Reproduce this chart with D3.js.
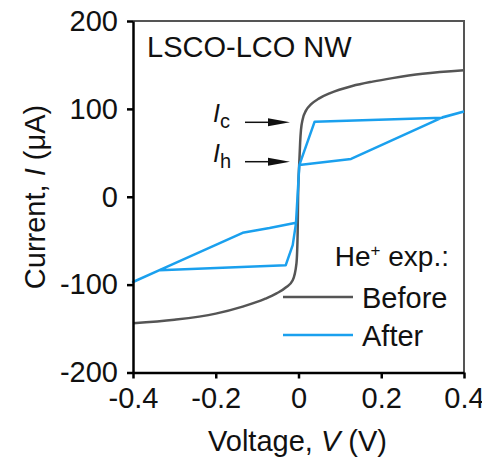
<!DOCTYPE html>
<html>
<head>
<meta charset="utf-8">
<script src="https://cdn.jsdelivr.net/npm/d3@7"></script>
<style>
  body { margin: 0; background: white; overflow: hidden; }
  text { font-family: "Liberation Sans", Arial, sans-serif; fill: #111; }
</style>
</head>
<body>
<div id="graph"></div>
<script>
var xTicks = [-0.4, -0.2, 0, 0.2, 0.4]
var xTickLabels = ["-0.4", "-0.2", "0", "0.2", "0.4"]
var yTicks = [200, 100, 0, -100, -200]
var yTickLabels = ["200", "100", "0", "-100", "-200"]

// before He+ exposure
var beforeV = [-0.4, -0.3, -0.2, -0.135, -0.08, -0.053, -0.03, -0.014, -0.005, -0.002, -0.001, 0.002, 0.004, 0.006, 0.01, 0.018, 0.03, 0.05, 0.075, 0.13, 0.179, 0.227, 0.3, 0.4]
var beforeI = [-144, -140, -133, -125, -116, -110, -103, -95, -76, -40, 0, 40, 62, 76, 88, 98, 105, 112, 117.6, 126, 131, 135, 140, 144]

// after He+ exposure (sweep order)
var afterV = [0.4, 0.348, 0.039, 0.002, -0.006, -0.014, -0.031, -0.336, -0.4, -0.336, -0.135, -0.07, -0.006, 0.002, 0.127, 0.348, 0.4]
var afterI = [97, 90, 85.4, 36, -30, -55, -78, -83.5, -97, -83.5, -41, -35.6, -29.5, 36, 43, 90.4, 97]

var w = 482, h = 461
var mLeft = 133, mRight = 464, mTop = 21, mBottom = 372.5

var svg = d3.select('#graph')
  .append('svg')
  .attr("width", w)
  .attr("height", h)

var x = d3.scaleLinear().domain([-0.4, 0.4]).range([mLeft, mRight])
var y = d3.scaleLinear().domain([-200, 200]).range([mBottom, mTop])

var beforePts = d3.zip(beforeV, beforeI)
var afterPts = d3.zip(afterV, afterI)

// frame top / right
svg.append("path")
  .attr("d", `M${mLeft},${mTop}H${mRight}V${mBottom}`)
  .attr("fill", "none")
  .attr("stroke", "#555")
  .attr("stroke-width", 2)

svg.append("path")
  .datum(beforePts)
  .attr("d", d3.line().x(d => x(d[0])).y(d => y(d[1])).curve(d3.curveMonotoneX))
  .attr("fill", "none")
  .attr("stroke", "#555")
  .attr("stroke-width", 2.5)

svg.append("path")
  .datum(afterPts)
  .attr("d", d3.line().x(d => x(d[0])).y(d => y(d[1])))
  .attr("fill", "none")
  .attr("stroke", "#1aa0ee")
  .attr("stroke-width", 2.5)
  .attr("stroke-linejoin", "round")

svg.append("g")
  .attr("transform", `translate(0,${mBottom})`)
  .call(d3.axisBottom(x)
    .tickValues(xTicks)
    .tickFormat((d, i) => xTickLabels[i])
    .tickSize(6)
    .tickSizeOuter(0)
    .tickPadding(9))

svg.append("g")
  .attr("transform", `translate(${mLeft},0)`)
  .call(d3.axisLeft(y)
    .tickValues(yTicks)
    .tickFormat((d, i) => yTickLabels[i])
    .tickSize(6)
    .tickSizeOuter(0)
    .tickPadding(9))

svg.selectAll(".domain, .tick line")
  .attr("stroke", "#000")
  .attr("stroke-width", 2.5)

svg.selectAll(".tick text")
  .style("font-family", '"Liberation Sans", Arial, sans-serif')
  .style("font-size", "29px")
  .attr("fill", "#111")

svg.append("text")
  .attr("x", (mLeft + mRight) / 2 - 1)
  .attr("y", 451)
  .attr("text-anchor", "middle")
  .style("font-size", "29px")
  .html('Voltage, <tspan font-style="italic">V</tspan> (V)')

svg.append("text")
  .attr("transform", "translate(45,197) rotate(-90)")
  .attr("text-anchor", "middle")
  .style("font-size", "29px")
  .html('Current, <tspan font-style="italic">I</tspan> (μA)')

svg.append("text")
  .attr("x", 147)
  .attr("y", 57)
  .style("font-size", "29px")
  .text("LSCO-LCO NW")

// Ic / Ih markers
var marks = [{ sub: "c", iy: 122, ay: 122.3 }, { sub: "h", iy: 162, ay: 161.7 }]
marks.forEach(m => {
  var t = svg.append("text")
    .attr("x", 213)
    .attr("y", m.iy)
    .style("font-size", "25px")
  t.append("tspan").attr("font-style", "italic").text("I")
  t.append("tspan").attr("dy", 6).style("font-size", "20px").text(m.sub)

  svg.append("line")
    .attr("x1", 245).attr("x2", 272)
    .attr("y1", m.ay).attr("y2", m.ay)
    .attr("stroke", "#111")
    .attr("stroke-width", 1.5)
  svg.append("path")
    .attr("d", `M268,${m.ay - 4}L290,${m.ay}L268,${m.ay + 4}Z`)
    .attr("fill", "#111")
})

// legend
var lt = svg.append("text")
  .attr("x", 449)
  .attr("y", 266)
  .attr("text-anchor", "end")
  .style("font-size", "28px")
lt.append("tspan").text("He")
lt.append("tspan").attr("dy", -10).style("font-size", "17px").text("+")
lt.append("tspan").attr("dy", 10).text(" exp.:")

var legend = [{ name: "Before", color: "#555", y: 297 }, { name: "After", color: "#1aa0ee", y: 335 }]
legend.forEach(l => {
  svg.append("line")
    .attr("x1", 283).attr("x2", 353)
    .attr("y1", l.y).attr("y2", l.y)
    .attr("stroke", l.color)
    .attr("stroke-width", 2.5)
  svg.append("text")
    .attr("x", 362)
    .attr("y", l.y + 11)
    .style("font-size", "29px")
    .text(l.name)
})
</script>
</body>
</html>
